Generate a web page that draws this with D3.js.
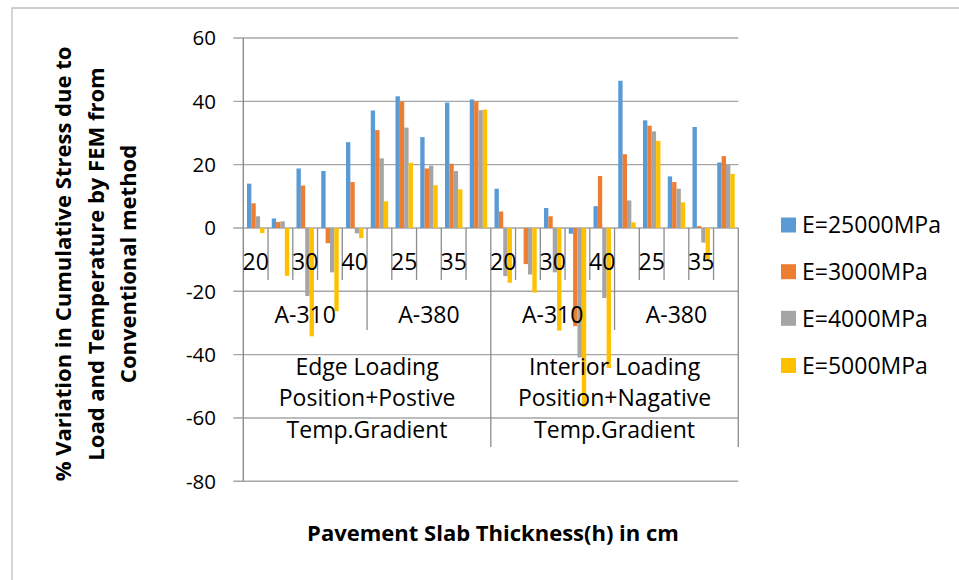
<!DOCTYPE html>
<html>
<head>
<meta charset="utf-8">
<script src="https://cdn.jsdelivr.net/npm/d3@7"></script>
<style>
    body { margin: 0; background: #fff; }
    text { font-family: "Open Sans", sans-serif; fill: #000; }
</style>
</head>
<body>
<div id="chart"></div>
<script>
const width = 959,
    height = 580;

// categories (three levels)
const loadCases = [
    ['Edge Loading', 'Position+Postive', 'Temp.Gradient'],
    ['Interior Loading', 'Position+Nagative', 'Temp.Gradient']
];
const aircraft = ['A-310', 'A-380'];
const thickness = [20, 25, 30, 35, 40];

// series
const seriesNames = ['E=25000MPa', 'E=3000MPa', 'E=4000MPa', 'E=5000MPa'];
const e25000 = [14.0, 3.0, 18.8, 18.0, 27.1, 37.1, 41.6, 28.7, 39.6, 40.6,
    12.4, 0, 6.3, -1.8, 6.9, 46.5, 34.0, 16.3, 31.9, 20.7];
const e3000 = [7.8, 1.9, 13.4, -4.8, 14.5, 30.9, 39.9, 18.8, 20.3, 40.0,
    5.2, -11.4, 3.7, -31, 16.4, 23.3, 32.3, 14.5, 0.6, 22.7];
const e4000 = [3.7, 2.1, -21.5, -14.0, -1.7, 22.0, 31.7, 19.7, 18.0, 37.2,
    -15.2, -14.7, -14, -40.9, -22.1, 8.7, 30.5, 12.4, -4.6, 19.9];
const e5000 = [-1.6, -15.1, -34.2, -26.3, -3.2, 8.4, 20.6, 13.5, 12.2, 37.4,
    -17.3, -20.4, -32.4, -56.5, -44.2, 1.8, 27.5, 8.1, -10, 17.1];
const yTicks = [60, 40, 20, 0, -20, -40, -60, -80];
const colors = ['#5b9bd5', '#ed7d31', '#a5a5a5', '#ffc000'];

const allSeries = [e25000, e3000, e4000, e5000];

// build flat list of the 20 leaf categories
const cats = [];
loadCases.forEach(function(lc, i) {
    aircraft.forEach(function(a, j) {
        thickness.forEach(function(t, k) {
            cats.push({ id: cats.length, load: i, plane: j, t: t });
        });
    });
});

const plot = { left: 243.3, right: 738.3, top: 38, bottom: 481.3 };

const svg = d3.select('#chart')
    .append('svg')
    .attr('width', width)
    .attr('height', height);

// chart border (only top and left visible)
svg.append('path')
    .attr('d', 'M12,580 V8 H959')
    .attr('fill', 'none')
    .attr('stroke', '#bfbfbf')
    .attr('stroke-width', 1.3);

const y = d3.scaleLinear()
    .domain([-80, 60])
    .range([plot.bottom, plot.top]);

const x0 = d3.scaleBand()
    .domain(cats.map(function(d) { return d.id; }))
    .range([plot.left, plot.right])
    .paddingInner(0)
    .paddingOuter(0);

const bw = x0.bandwidth();

const x1 = d3.scaleBand()
    .domain(d3.range(seriesNames.length))
    .range([3.7, bw - 3.6])
    .padding(0);

// gridlines + y labels
const grid = svg.append('g');
grid.selectAll('line')
    .data(yTicks)
    .enter()
    .append('line')
    .attr('x1', plot.left - 10)
    .attr('x2', plot.right)
    .attr('y1', function(d) { return y(d); })
    .attr('y2', function(d) { return y(d); })
    .attr('stroke', '#a6a6a6')
    .attr('stroke-width', 1.4);

grid.selectAll('text')
    .data(yTicks)
    .enter()
    .append('text')
    .attr('x', 216)
    .attr('y', function(d) { return y(d); })
    .attr('dy', '0.36em')
    .attr('text-anchor', 'end')
    .style('font-size', '20.5px')
    .text(function(d) { return d; });

// y axis line
const axisColor = '#8c8c8c';
svg.append('line')
    .attr('x1', plot.left).attr('x2', plot.left)
    .attr('y1', plot.top).attr('y2', plot.bottom)
    .attr('stroke', axisColor)
    .attr('stroke-width', 1.4);

// category dividers: longer for higher levels
const y0 = y(0);
const dividers = svg.append('g');
d3.range(1, cats.length + 1).forEach(function(b) {
    let depth = 52;
    if (b % 10 === 0) depth = 219;
    else if (b % 5 === 0) depth = 102;
    const xx = plot.left + b * bw;
    dividers.append('line')
        .attr('x1', xx).attr('x2', xx)
        .attr('y1', y0).attr('y2', y0 + depth)
        .attr('stroke', axisColor)
        .attr('stroke-width', 1.3);
});

// bars
const group = svg.append('g');
allSeries.forEach(function(vals, s) {
    group.selectAll('rect.s' + s)
        .data(vals)
        .enter()
        .append('rect')
        .attr('class', 's' + s)
        .attr('x', function(d, i) { return x0(i) + x1(s); })
        .attr('y', function(d) { return d >= 0 ? y(d) : y0; })
        .attr('width', x1.bandwidth())
        .attr('height', function(d) { return Math.abs(y(d) - y0); })
        .attr('fill', colors[s]);
});

// level 1 labels (every other one, like Excel skips)
const lab = svg.append('g').style('font-size', '23px');
lab.selectAll('text.l1')
    .data(cats.filter(function(d) { return d.id % 2 === 0; }))
    .enter()
    .append('text')
    .attr('class', 'l1')
    .attr('x', function(d) { return x0(d.id) + bw / 2; })
    .attr('y', 262)
    .attr('dy', '0.36em')
    .attr('text-anchor', 'middle')
    .text(function(d) { return d.t; });

// level 2 labels
const l2 = [];
loadCases.forEach(function(lc, i) {
    aircraft.forEach(function(a, j) {
        l2.push({ name: a, start: (i * 2 + j) * 5 });
    });
});
lab.selectAll('text.l2')
    .data(l2)
    .enter()
    .append('text')
    .attr('class', 'l2')
    .attr('x', function(d) { return plot.left + (d.start + 2.5) * bw; })
    .attr('y', 314.5)
    .attr('dy', '0.36em')
    .attr('text-anchor', 'middle')
    .text(function(d) { return d.name; });

// level 3 labels (three lines each)
loadCases.forEach(function(lines, i) {
    const cx = plot.left + (i * 10 + 5) * bw;
    lines.forEach(function(s, k) {
        lab.append('text')
            .attr('x', cx)
            .attr('y', 366.7 + k * 31.3)
            .attr('dy', '0.36em')
            .attr('text-anchor', 'middle')
            .text(s);
    });
});

// legend
const legend = svg.append('g');
const legY = [225, 271.7, 318.3, 365.5];
seriesNames.forEach(function(name, i) {
    legend.append('rect')
        .attr('x', 781)
        .attr('y', legY[i] - 7.5)
        .attr('width', 15)
        .attr('height', 15)
        .attr('fill', colors[i]);
    legend.append('text')
        .attr('x', 802)
        .attr('y', legY[i])
        .attr('dy', '0.36em')
        .style('font-size', '23px')
        .text(name);
});

// axis titles
svg.append('text')
    .attr('x', 493)
    .attr('y', 533)
    .attr('dy', '0.36em')
    .attr('text-anchor', 'middle')
    .style('font-size', '22px')
    .style('font-weight', 'bold')
    .text('Pavement Slab Thickness(h) in cm');

const yTitle = ['% Variation in Cumulative Stress due to',
    'Load and Temperature by FEM from', 'Conventional method'];
const yt = svg.append('g')
    .attr('transform', 'translate(96,264) rotate(-90)');
yTitle.forEach(function(s, i) {
    yt.append('text')
        .attr('x', 0)
        .attr('y', (i - 1) * 32.5)
        .attr('dy', '0.36em')
        .attr('text-anchor', 'middle')
        .style('font-size', '22px')
        .style('font-weight', 'bold')
        .text(s);
});
</script>
</body>
</html>
